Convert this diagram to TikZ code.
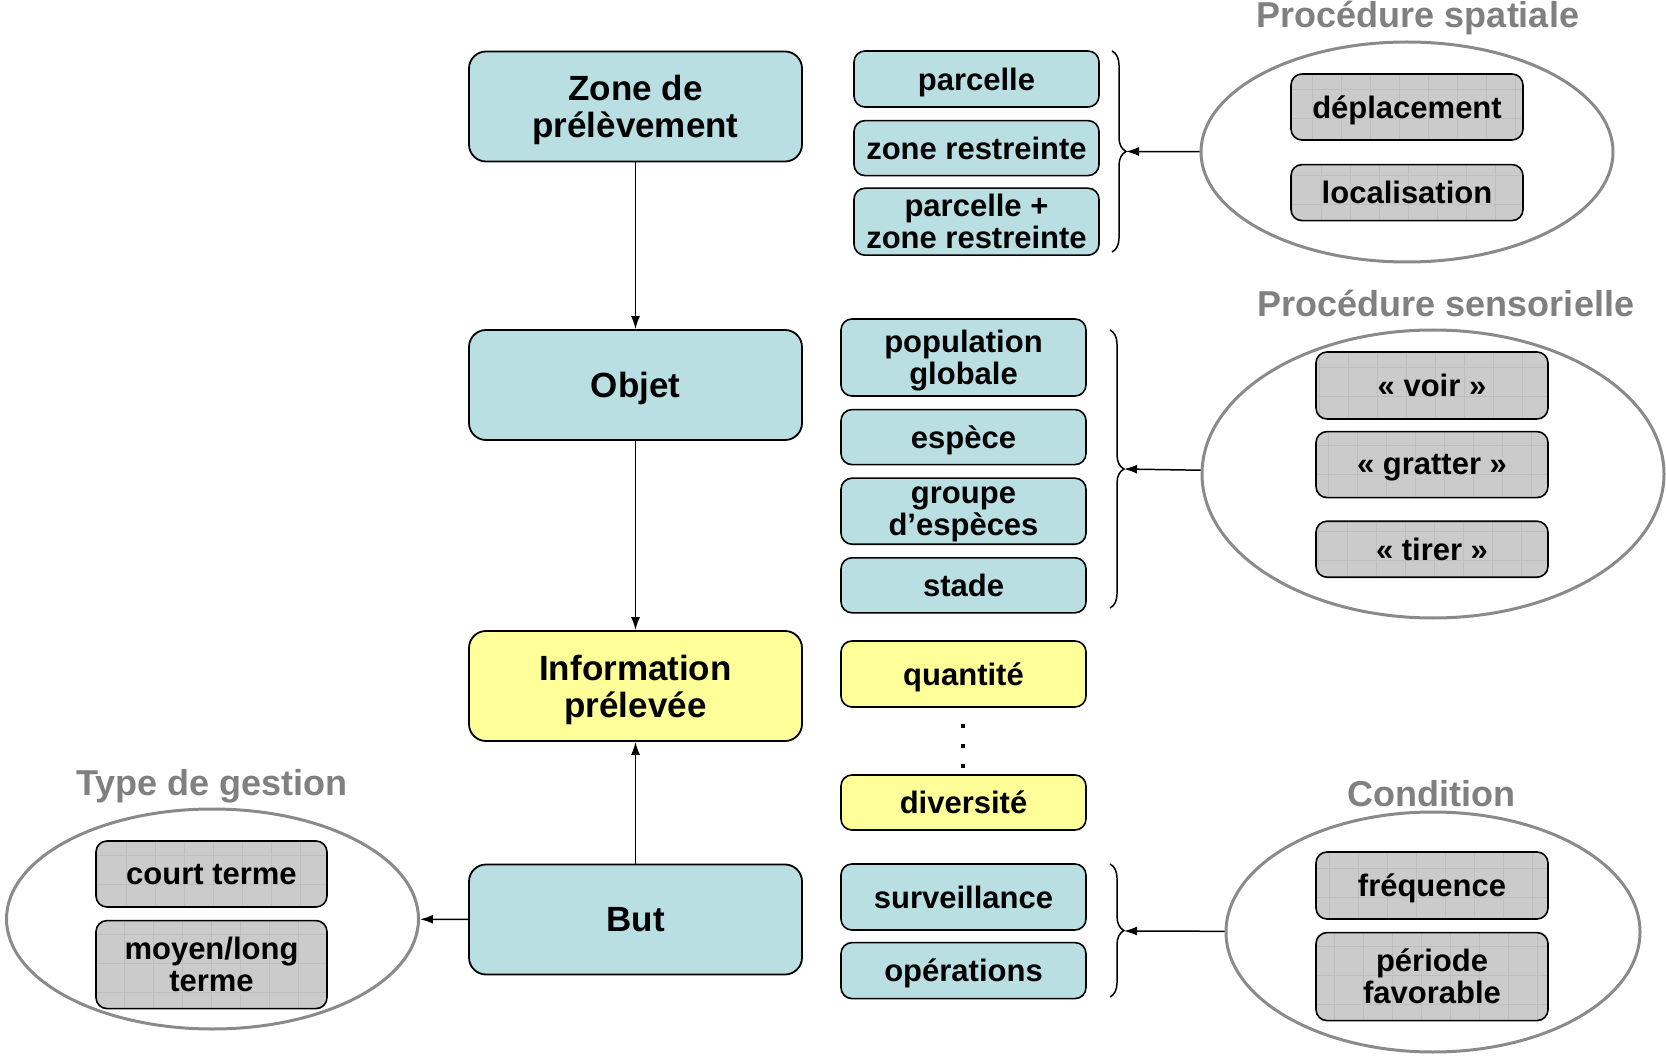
\documentclass[tikz,border=0pt]{standalone}
\usepackage{fontspec}
\setmainfont{Liberation Sans}
\usetikzlibrary{positioning,calc,arrows.meta,shapes.geometric,decorations.pathreplacing}

\definecolor{boxcyan}{RGB}{185,223,227}
\definecolor{boxyellow}{RGB}{255,255,153}
\definecolor{boxgray}{RGB}{203,203,203}
\definecolor{gridgray}{RGB}{190,190,190}
\definecolor{titlegray}{RGB}{128,128,128}
\definecolor{ringgray}{RGB}{138,138,138}

\tikzset{
  mainbox/.style={draw=black, line width=1.8pt, rounded corners=17pt, fill=boxcyan,
    minimum width=333pt, minimum height=110pt, align=center, inner sep=0pt, text depth=0pt,
    font=\fontsize{35}{37}\selectfont\bfseries},
  itembox/.style={draw=black, line width=1.6pt, rounded corners=11pt, fill=boxcyan,
    minimum width=245pt, minimum height=55pt, align=center, inner sep=0pt, text depth=0pt,
    font=\fontsize{31}{32}\selectfont\bfseries},
  yitem/.style={itembox, fill=boxyellow},
  gitem/.style={itembox, fill=boxgray, minimum width=232pt,
    path picture={\draw[gridgray, line width=0.6pt, step=29pt]
      (path picture bounding box.south west) grid (path picture bounding box.north east);}},
  ring/.style={ellipse, draw=ringgray, line width=3pt, inner sep=0pt},
  ringtitle/.style={anchor=base, text=titlegray, font=\fontsize{36}{38}\selectfont\bfseries},
  link/.style={line width=1.5pt, -{Latex[length=13pt,width=9pt]}},
  bracket/.style={line width=1.5pt, decorate, decoration={brace, amplitude=14pt}},
}

\begin{document}
\begin{tikzpicture}[x=1pt,y=-1pt]
   \useasboundingbox (0,0) rectangle (1666,1056);

   \node[mainbox] (zone) at (635.5,106.5) {Zone de\\prélèvement};
   \node[mainbox] (objet) at (635.5,385) {Objet};
   \node[mainbox, fill=boxyellow] (info) at (635.5,686) {Information\\prélevée};
   \node[mainbox] (but) at (635.5,919.5) {But};

   \node[itembox, minimum height=56pt] (parc) at (976.5,79) {parcelle};
   \node[itembox, below=12pt of parc] (zr) {zone restreinte};
   \node[itembox, minimum height=67pt, below=11pt of zr] (pzr) {parcelle +\\zone restreinte};

   \node[itembox, minimum height=77pt] (pop) at (963.5,357.5) {population\\globale};
   \node[itembox, below=12pt of pop] (esp) {espèce};
   \node[itembox, minimum height=66pt, below=12pt of esp] (grp) {groupe\\d’espèces};
   \node[itembox, below=12pt of grp] (stade) {stade};

   \node[yitem, minimum height=66pt] (quant) at (963.5,674) {quantité};
   \node[yitem] (div) at (963.5,802.5) {diversité};
   \foreach \y in {726,746,766}
      \fill (960.7,\y-2.3) rectangle ++(4.6,4.6);

   \node[itembox, minimum height=66pt] (surv) at (963.5,897) {surveillance};
   \node[itembox, minimum height=56pt, below=11pt of surv] (oper) {opérations};

   \node[ring, minimum width=412pt, minimum height=220pt] (spat) at (1407,152) {};
   \node[gitem, minimum height=66pt] (depl) at (1407,107) {déplacement};
   \node[gitem, minimum height=56pt, below=23pt of depl] (loc) {localisation};
   \node[ringtitle] (tspat) at (1418,28) {Procédure spatiale};

   \node[ring, minimum width=462pt, minimum height=288pt] (sens) at (1433,474) {};
   \node[gitem, minimum height=67pt] (voir) at (1432,385.5) {« voir »};
   \node[gitem, minimum height=66pt, below=11pt of voir] (gratt) {« gratter »};
   \node[gitem, minimum height=56pt, below=22pt of gratt] (tirer) {« tirer »};
   \node[ringtitle] (tsens) at (1446,317) {Procédure sensorielle};

   \node[ring, minimum width=414pt, minimum height=240pt] (cond) at (1433,932) {};
   \node[gitem, minimum height=67pt] (freq) at (1432,885.5) {fréquence};
   \node[gitem, minimum height=88pt, below=12pt of freq] (per) {période\\favorable};
   \node[ringtitle] (tcond) at (1431,806) {Condition};

   \node[ring, minimum width=412pt, minimum height=220pt] (gest) at (212.5,919) {};
   \node[gitem, minimum width=231pt, minimum height=66pt] (court) at (211.5,874) {court terme};
   \node[gitem, minimum width=231pt, minimum height=88pt, below=12pt of court] (moyen) {moyen/long\\terme};
   \node[ringtitle] (tgest) at (212,795) {Type de gestion};

   \draw[bracket] (1112,51) -- (1112,252);
   \draw[bracket] (1110,330) -- (1110,608);
   \draw[bracket] (1110,864) -- (1110,997);
   \coordinate (bzone) at (1126,151.5);
   \coordinate (bobjet) at (1124,469);
   \coordinate (bbut) at (1124,931);

   \draw[link] (zone) -- (objet);
   \draw[link] (objet) -- (info);
   \draw[link] (but) -- (info);
   \draw[link] (but) -- (gest);
   \draw[link] (spat) -- (bzone);
   \draw[link] (sens) -- (bobjet);
   \draw[link] (cond) -- (bbut);
\end{tikzpicture}
\end{document}
